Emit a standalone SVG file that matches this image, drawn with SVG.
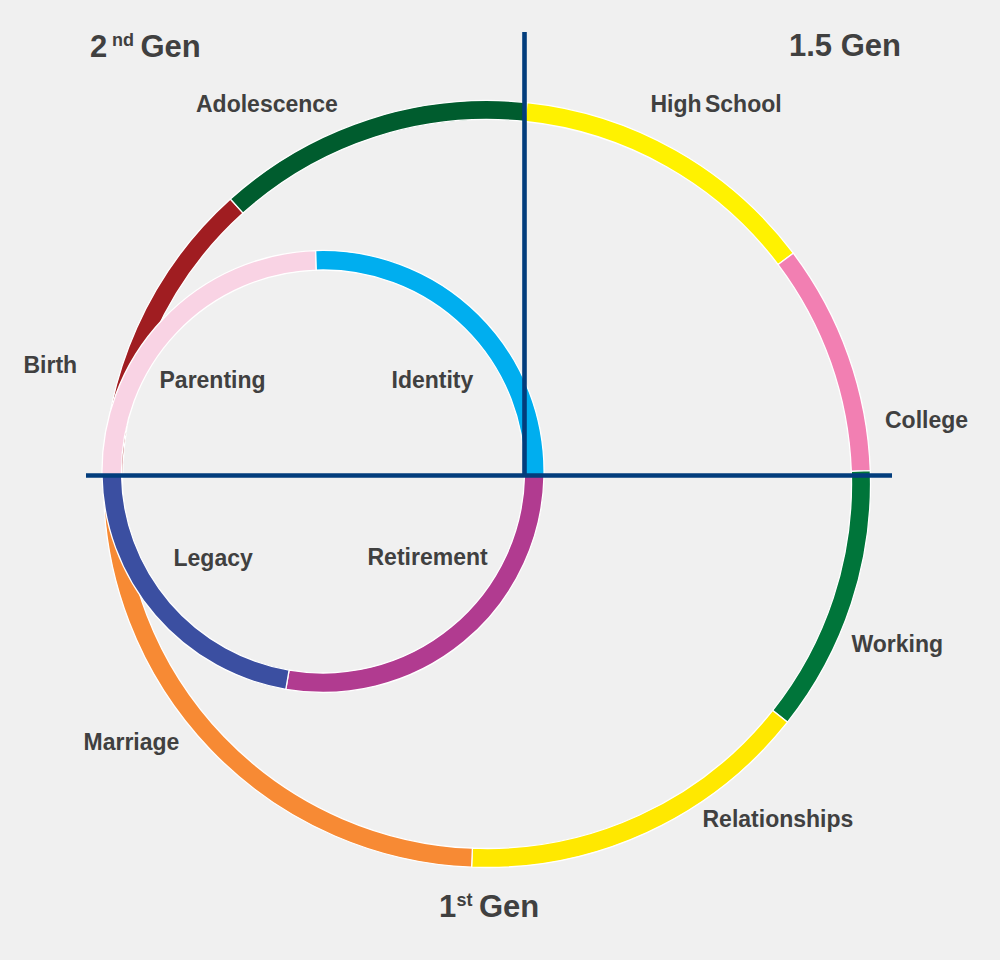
<svg xmlns="http://www.w3.org/2000/svg" width="1000" height="960" viewBox="0 0 1000 960">
  <style>
    .seg { stroke: #ffffff; stroke-width: 1.3; stroke-linejoin: miter; }
    .lbl { font-family: "Liberation Sans", Arial, Helvetica, sans-serif; font-weight: bold; font-size: 23px; fill: #404040; }
    .hdr { font-family: "Liberation Sans", Arial, Helvetica, sans-serif; font-weight: bold; font-size: 31px; fill: #404040; }
    .sup { font-size: 18px; }
    .axis { stroke: #023d7c; stroke-width: 4.6; fill: none; }
  </style>
  <rect width="1000" height="960" fill="#f0f0f0"/>

  <g id="outer-ring">
    <path id="birth" class="seg" fill="#a01d21" d="M103.5,484 A383.5,383.5 0 0 1 230.4,199.0 L243.1,213.1 A364.5,364.5 0 0 0 122.5,484 Z"/>
    <path id="adolescence" class="seg" fill="#005c2e" d="M230.4,199.0 A383.5,383.5 0 0 1 527.1,102.6 L525.1,121.5 A364.5,364.5 0 0 0 243.1,213.1 Z"/>
    <path id="high-school" class="seg" fill="#fff200" d="M527.1,102.6 A383.5,383.5 0 0 1 793.3,253.2 L778.1,264.6 A364.5,364.5 0 0 0 525.1,121.5 Z"/>
    <path id="college" class="seg" fill="#f27fb2" d="M793.3,253.2 A383.5,383.5 0 0 1 870.3,470.6 L851.3,471.3 A364.5,364.5 0 0 0 778.1,264.6 Z"/>
    <path id="working" class="seg" fill="#00753a" d="M870.3,470.6 A383.5,383.5 0 0 1 787.5,722.2 L772.7,710.4 A364.5,364.5 0 0 0 851.3,471.3 Z"/>
    <path id="relationships" class="seg" fill="#ffe800" d="M787.5,722.2 A383.5,383.5 0 0 1 471.6,867.2 L472.4,848.2 A364.5,364.5 0 0 0 772.7,710.4 Z"/>
    <path id="marriage" class="seg" fill="#f78a34" d="M471.6,867.2 A383.5,383.5 0 0 1 103.5,484 L122.5,484 A364.5,364.5 0 0 0 472.4,848.2 Z"/>
  </g>

  <g id="inner-ring">
    <path id="parenting" class="seg" fill="#f9d3e4" d="M102.0,475.4 A221,221 0 0 1 315.7,250.6 L316.3,270.1 A201.5,201.5 0 0 0 121.5,475.0 Z"/>
    <path id="identity" class="seg" fill="#00aeef" d="M315.7,250.6 A221,221 0 0 1 544.0,476.1 L524.5,475.7 A201.5,201.5 0 0 0 316.3,270.1 Z"/>
    <path id="retirement" class="seg" fill="#b13b90" d="M544.0,476.1 A221,221 0 0 1 285.8,689.3 L289.1,670.1 A201.5,201.5 0 0 0 524.5,475.7 Z"/>
    <path id="legacy" class="seg" fill="#3b4fa1" d="M285.8,689.3 A221,221 0 0 1 102.0,475.4 L121.5,475.0 A201.5,201.5 0 0 0 289.1,670.1 Z"/>
  </g>

  <g id="connectors">
    <line class="axis" x1="524.5" y1="32" x2="524.5" y2="476"/>
    <line class="axis" x1="86" y1="475.5" x2="892" y2="475.5"/>
  </g>

  <g id="labels">
    <text class="hdr"><tspan x="90" y="57">2</tspan><tspan class="sup" x="112" y="46">nd</tspan><tspan x="140.5" y="57">Gen</tspan></text>
    <text class="hdr" x="789" y="56">1.5 Gen</text>
    <text class="hdr"><tspan x="439" y="917">1</tspan><tspan class="sup" x="456.5" y="906">st</tspan><tspan x="479" y="917">Gen</tspan></text>
    <text class="lbl" x="196" y="112">Adolescence</text>
    <text class="lbl" x="650.5" y="112" word-spacing="-3">High School</text>
    <text class="lbl" x="885" y="428">College</text>
    <text class="lbl" x="23.5" y="373">Birth</text>
    <text class="lbl" x="159.5" y="388">Parenting</text>
    <text class="lbl" x="391.5" y="388">Identity</text>
    <text class="lbl" x="173.5" y="566">Legacy</text>
    <text class="lbl" x="367.5" y="565">Retirement</text>
    <text class="lbl" x="851.5" y="652">Working</text>
    <text class="lbl" x="83.5" y="750">Marriage</text>
    <text class="lbl" x="702.5" y="827">Relationships</text>
  </g>
</svg>
